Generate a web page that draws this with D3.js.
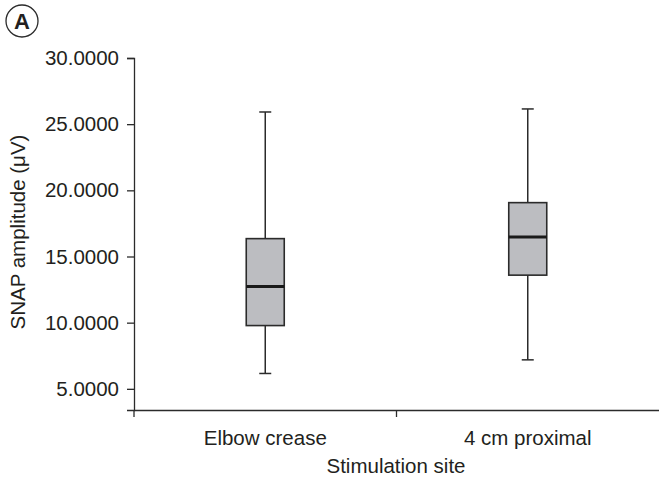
<!DOCTYPE html>
<meta charset="utf-8">
<html>
<head>
<style>
  body { margin: 0; background: #fff; }
  text { font-family: "Liberation Sans", Arial, sans-serif; fill: #231f20; }
</style>
</head>
<body>
<script src="https://d3js.org/d3.v7.min.js"></script>
<svg width="659" height="478"></svg>
<script>
    // data
    var sites = ["Elbow crease", "4 cm proximal"];
    var whiskerLow = [6.16, 7.19];
    var q1 = [9.78, 13.59];
    var median = [12.73, 16.48];
    var q3 = [16.35, 19.07];
    var whiskerHigh = [25.92, 26.15];
    var yTicks = [5, 10, 15, 20, 25, 30];

    var svg = d3.select("svg");
    var ink = "#2b2b2b";
    var fontSize = "20.5px";

    var x = d3.scaleBand().domain(sites).range([134, 659]);
    var y = d3.scaleLinear().domain([3.4, 30]).range([410, 58]);

    // y axis
    var yAxis = svg.append("g")
        .attr("transform", "translate(134,0)")
        .call(d3.axisLeft(y).tickValues(yTicks).tickFormat(d3.format(".4f")).tickSizeOuter(0).tickSize(7).tickPadding(8));
    yAxis.select(".domain").attr("stroke", ink).attr("stroke-width", 1.3);
    yAxis.selectAll(".tick line").attr("stroke", ink).attr("stroke-width", 1.3);
    yAxis.selectAll(".tick text").attr("font-size", fontSize).attr("fill", "#231f20")
        .style("font-family", "'Liberation Sans', Arial, sans-serif");

    // x axis (labels centered, ticks on band edges)
    var xAxis = svg.append("g")
        .attr("transform", "translate(0,410)")
        .call(d3.axisBottom(x).tickSize(0).tickSizeOuter(0).tickPadding(20));
    xAxis.select(".domain").attr("stroke", ink).attr("stroke-width", 1.3);
    xAxis.selectAll(".tick text").attr("font-size", fontSize).attr("fill", "#231f20")
        .style("font-family", "'Liberation Sans', Arial, sans-serif");
    xAxis.selectAll(".edge")
        .data(sites)
        .enter().append("line")
        .attr("class", "edge")
        .attr("x1", function (d) { return x(d); })
        .attr("x2", function (d) { return x(d); })
        .attr("y1", 0).attr("y2", 7)
        .attr("stroke", ink).attr("stroke-width", 1.3);

    // boxes
    var boxW = 38, capW = 12;
    var g = svg.append("g");
    var boxes = g.selectAll(".box")
        .data(sites)
        .enter().append("g")
        .attr("class", "box")
        .attr("transform", function (d) { return "translate(" + (x(d) + x.bandwidth() / 2) + ",0)"; });

    boxes.append("line")
        .attr("y1", function (d, i) { return y(whiskerLow[i]); })
        .attr("y2", function (d, i) { return y(whiskerHigh[i]); })
        .attr("stroke", ink).attr("stroke-width", 1.5);
    boxes.append("line")
        .attr("x1", -capW / 2).attr("x2", capW / 2)
        .attr("y1", function (d, i) { return y(whiskerLow[i]); })
        .attr("y2", function (d, i) { return y(whiskerLow[i]); })
        .attr("stroke", ink).attr("stroke-width", 1.5);
    boxes.append("line")
        .attr("x1", -capW / 2).attr("x2", capW / 2)
        .attr("y1", function (d, i) { return y(whiskerHigh[i]); })
        .attr("y2", function (d, i) { return y(whiskerHigh[i]); })
        .attr("stroke", ink).attr("stroke-width", 1.5);
    boxes.append("rect")
        .attr("x", -boxW / 2)
        .attr("width", boxW)
        .attr("y", function (d, i) { return y(q3[i]); })
        .attr("height", function (d, i) { return y(q1[i]) - y(q3[i]); })
        .attr("fill", "#bcbdc1")
        .attr("stroke", ink).attr("stroke-width", 1.6);
    boxes.append("line")
        .attr("x1", -boxW / 2).attr("x2", boxW / 2)
        .attr("y1", function (d, i) { return y(median[i]); })
        .attr("y2", function (d, i) { return y(median[i]); })
        .attr("stroke", "#1a1a1a").attr("stroke-width", 3);

    // axis titles
    svg.append("text")
        .attr("transform", "translate(25,232) rotate(-90)")
        .attr("text-anchor", "middle")
        .attr("font-size", fontSize)
        .text("SNAP amplitude (\u03bcV)");
    svg.append("text")
        .attr("x", 396).attr("y", 473)
        .attr("text-anchor", "middle")
        .attr("font-size", fontSize)
        .text("Stimulation site");

    // panel letter
    svg.append("circle")
        .attr("cx", 22).attr("cy", 21).attr("r", 16)
        .attr("fill", "none").attr("stroke", ink).attr("stroke-width", 1.3);
    svg.append("text")
        .attr("x", 22).attr("y", 29)
        .attr("text-anchor", "middle")
        .attr("font-size", "22px").attr("font-weight", "bold")
        .text("A");
</script>
</body>
</html>
